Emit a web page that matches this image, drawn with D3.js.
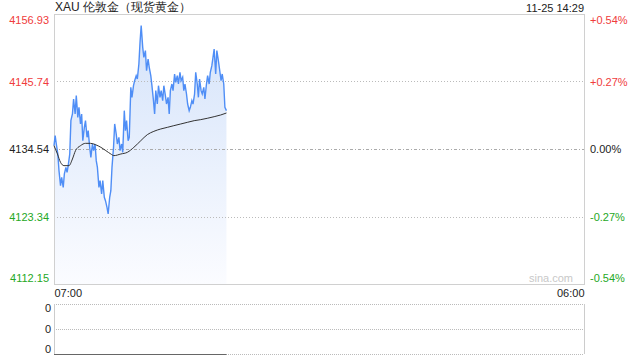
<!DOCTYPE html>
<html>
<head>
<meta charset="utf-8">
<script src="https://cdn.jsdelivr.net/npm/d3@7"></script>
<style>
  body { margin: 0; background: #fff; }
  svg { display: block; font-family: "Liberation Sans", Arial, sans-serif; }
</style>
</head>
<body>
<div id="chart"></div>
<script>
// datos
const title = "XAU 伦敦金（现货黄金）";
const stamp = "11-25 14:29";
const prevClose = 4134.54;
const yTicks = [4112.15, 4123.34, 4134.54, 4145.74, 4156.93];
const pctLabels = ["-0.54%", "-0.27%", "0.00%", "+0.27%", "+0.54%"];
const xLabels = ["07:00", "06:00"];
const volLabels = ["0", "0", "0"];
const lastMinute = 449; // 14:29

// precio cada ~3.5 min desde las 07:00
const prices = [
  4135.09, 4136.75, 4135.37, 4133.71, 4130.95, 4128.46, 4129.84, 4128.18, 4130.40, 4131.50,
  4130.67, 4131.78, 4133.71, 4139.24, 4140.35, 4142.83, 4140.35, 4143.39, 4139.79, 4141.45,
  4138.69, 4140.35, 4135.92, 4138.13, 4139.24, 4136.48, 4137.58, 4134.82, 4133.16, 4135.37,
  4134.27, 4135.37, 4132.61, 4131.50, 4128.18, 4129.29, 4127.08, 4129.29, 4126.53, 4125.97,
  4124.87, 4123.76, 4126.53, 4127.63, 4131.50, 4134.82, 4138.69, 4137.03, 4135.37, 4136.48,
  4134.27, 4135.37, 4133.99, 4140.90, 4137.58, 4139.24, 4135.92, 4136.48, 4144.77, 4143.11,
  4145.04, 4145.87, 4146.70, 4146.15, 4148.64, 4152.23, 4155.00, 4151.40, 4149.74, 4150.85,
  4147.53, 4149.47, 4148.09, 4146.70, 4145.04, 4142.56, 4140.35, 4144.22, 4142.00, 4145.04,
  4143.11, 4144.22, 4142.56, 4145.04, 4143.39, 4142.00, 4143.11, 4140.35, 4144.22, 4145.32,
  4144.22, 4146.98, 4145.60, 4146.70, 4145.32, 4147.26, 4145.87, 4146.43, 4144.22, 4145.32,
  4143.66, 4142.00, 4140.90, 4141.45, 4142.56, 4142.00, 4143.66, 4147.26, 4145.32, 4143.11,
  4146.15, 4144.22, 4143.66, 4144.77, 4142.83, 4145.32, 4146.70, 4145.32, 4147.26, 4148.36,
  4149.74, 4151.13, 4146.98, 4150.85, 4149.19, 4147.81, 4145.87, 4146.98, 4145.32, 4141.45,
  4140.90
];

// linea de precio medio (minutos desde 07:00, valor)
const avgMinutes = [0, 9, 17, 26, 39, 48, 56, 69, 82, 95, 108, 122, 135, 148, 156, 174,
  191, 208, 226, 243, 260, 278, 295, 312, 330, 347, 365, 382, 399, 417, 434, 449];
const avgValues = [4135.09, 4133.71, 4132.33, 4131.78, 4131.78, 4132.88, 4134.27, 4135.09,
  4135.48, 4135.48, 4135.26, 4134.82, 4134.27, 4133.71, 4133.44, 4133.71, 4133.99, 4134.82,
  4135.92, 4136.92, 4137.47, 4137.86, 4138.13, 4138.41, 4138.69, 4138.96, 4139.24, 4139.41,
  4139.63, 4139.90, 4140.18, 4140.51];

const W = 640, H = 360;
const m = { left: 54, right: 584, top: 14, bottom: 284 };
const vol = { top: 304, bottom: 354 };
const FONT = '"Liberation Sans", Arial, sans-serif';

const start = new Date(2025, 10, 25, 7, 0);
const end = new Date(2025, 10, 26, 6, 0);
const atMin = (mm) => d3.timeMinute.offset(start, mm);
const step = lastMinute / (prices.length - 1);

const svg = d3.select("#chart").append("svg").attr("width", W).attr("height", H);

const x = d3.scaleTime().domain([start, end]).range([m.left, m.right]);
const y = d3.scaleLinear().domain([yTicks[0], yTicks[yTicks.length - 1]]).range([m.bottom, m.top]);

const colorOf = (v) => (v > prevClose + 0.001 ? "#f03c3c" : v < prevClose - 0.001 ? "#25a825" : "#222");

// titulo
svg.append("text").attr("x", 55).attr("y", 11).attr("font-size", 12).attr("fill", "#222").text(title);
svg.append("text").attr("x", m.right).attr("y", 12).attr("text-anchor", "end")
  .attr("font-size", 11).attr("fill", "#222").text(stamp);

// degradado del area
const grad = svg.append("defs").append("linearGradient").attr("id", "fillGrad")
  .attr("gradientUnits", "userSpaceOnUse").attr("x1", 0).attr("x2", 0).attr("y1", m.top).attr("y2", m.bottom);
grad.append("stop").attr("offset", 0).attr("stop-color", "#d3e2fa");
grad.append("stop").attr("offset", 1).attr("stop-color", "#fbfcff");

const series = prices.map((v, i) => ({ t: atMin(i * step), v }));
const avgSeries = avgMinutes.map((mm, i) => ({ t: atMin(mm), v: avgValues[i] }));

svg.append("path").datum(series)
  .attr("fill", "url(#fillGrad)")
  .attr("d", d3.area().x((d) => x(d.t)).y0(m.bottom).y1((d) => y(d.v)));

// lineas guia
const inner = yTicks.slice(1, -1);
svg.append("g").selectAll("line").data(inner).join("line")
  .attr("x1", m.left).attr("x2", m.right)
  .attr("y1", (d) => Math.round(y(d)) + 0.5).attr("y2", (d) => Math.round(y(d)) + 0.5)
  .attr("stroke", (d) => (d === prevClose ? "#aaa" : "#bbb"))
  .attr("stroke-dasharray", (d) => (d === prevClose ? "3,2,1,2" : "1,2"));

// marco
svg.append("rect").attr("x", m.left + 0.5).attr("y", m.top + 0.5)
  .attr("width", m.right - m.left).attr("height", m.bottom - m.top)
  .attr("fill", "none").attr("stroke", "#d0d0d0");

svg.append("path").datum(series)
  .attr("fill", "none").attr("stroke", "#4f8ef6").attr("stroke-width", 1.4)
  .attr("d", d3.line().x((d) => x(d.t)).y((d) => y(d.v)));

svg.append("path").datum(avgSeries)
  .attr("fill", "none").attr("stroke", "#333").attr("stroke-width", 1)
  .attr("d", d3.line().curve(d3.curveMonotoneX).x((d) => x(d.t)).y((d) => y(d.v)));

// eje izquierdo
const yAxis = svg.append("g").attr("transform", `translate(${m.left - 2},0)`)
  .call(d3.axisLeft(y).tickValues(yTicks).tickSize(0).tickFormat(d3.format(".2f")))
  .attr("font-family", FONT).attr("font-size", 11);
yAxis.select(".domain").remove();
yAxis.selectAll("text")
  .attr("fill", (d) => colorOf(d))
  .attr("dy", (d, i) => (i === 0 ? "-0.2em" : i === yTicks.length - 1 ? "0.85em" : "0.32em"));

// eje derecho (porcentaje)
const rAxis = svg.append("g").attr("transform", `translate(${m.right + 3},0)`)
  .call(d3.axisRight(y).tickValues(yTicks).tickSize(0).tickFormat((d, i) => pctLabels[i]))
  .attr("font-family", FONT).attr("font-size", 11);
rAxis.select(".domain").remove();
rAxis.selectAll("text")
  .attr("fill", (d) => colorOf(d))
  .attr("dy", (d, i) => (i === 0 ? "-0.2em" : i === yTicks.length - 1 ? "0.85em" : "0.32em"));

svg.append("text").attr("x", 573).attr("y", 282).attr("text-anchor", "end")
  .attr("font-size", 11).attr("fill", "#c8c8c8").text("sina.com");

// eje de tiempo
const xAxis = svg.append("g").attr("transform", `translate(0,${m.bottom})`)
  .call(d3.axisBottom(x).tickValues([start, end]).tickSize(0).tickFormat((d, i) => xLabels[i]))
  .attr("font-family", FONT).attr("font-size", 11);
xAxis.select(".domain").remove();
xAxis.selectAll("text").attr("fill", "#222")
  .attr("y", 5).attr("text-anchor", (d, i) => (i === 0 ? "start" : "end"));

// panel de volumen
const vy = d3.scaleLinear().domain([0, volLabels.length - 1]).range([vol.top, vol.bottom]);
svg.append("g").selectAll("line").data(d3.range(volLabels.length)).join("line")
  .attr("x1", m.left).attr("x2", m.right)
  .attr("y1", (d) => Math.round(vy(d)) + 0.5).attr("y2", (d) => Math.round(vy(d)) + 0.5)
  .attr("stroke", "#bbb").attr("stroke-dasharray", "1,1");
svg.append("line").attr("x1", m.left + 0.5).attr("x2", m.left + 0.5)
  .attr("y1", vol.top).attr("y2", vol.bottom).attr("stroke", "#ccc");
svg.append("line").attr("x1", m.right + 0.5).attr("x2", m.right + 0.5)
  .attr("y1", vol.top).attr("y2", vol.bottom).attr("stroke", "#ccc");
svg.append("line").attr("x1", m.left).attr("x2", x(atMin(lastMinute)))
  .attr("y1", vol.bottom + 0.5).attr("y2", vol.bottom + 0.5).attr("stroke", "#666");

svg.append("g").selectAll("text").data(volLabels).join("text")
  .attr("x", 51).attr("y", (d, i) => vy(i))
  .attr("text-anchor", "end").attr("font-size", 11).attr("fill", "#222")
  .attr("dy", (d, i) => (i === 0 ? "0.75em" : i === volLabels.length - 1 ? "-0.1em" : "0.32em"))
  .text((d) => d);
</script>
</body>
</html>
